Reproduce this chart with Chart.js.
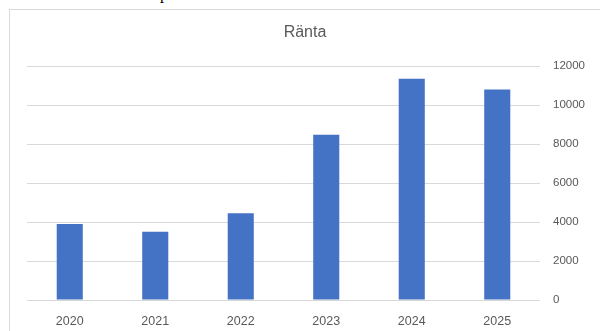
<!DOCTYPE html>
<html>
<head>
<meta charset="utf-8">
<script src="https://cdn.jsdelivr.net/npm/chart.js@4/dist/chart.umd.min.js"></script>
<style>
  html, body { margin: 0; padding: 0; background: #ffffff; }
  body { width: 600px; height: 331px; position: relative; overflow: hidden; }
  #frame {
    position: absolute; left: 9px; top: 9px; width: 640px; height: 400px;
    border: 1px solid #d9d9d9; box-sizing: border-box;
  }
  #above {
    position: absolute; left: 160px; top: -14px;
    font-family: "Liberation Serif", serif; font-size: 16px; color: #000;
    line-height: 16px;
  }
  #wrap { position: absolute; left: 0; top: 0; width: 600px; height: 331px; }
</style>
</head>
<body>
<div id="above">p</div>
<div id="frame"></div>
<div id="wrap"><canvas id="c" width="600" height="331"></canvas></div>
<script>
// Annual interest cost
const years = ['2020', '2021', '2022', '2023', '2024', '2025'];
const interest = [3900, 3500, 4450, 8480, 11350, 10800];
const chartTitle = 'Ränta';
const yMin = 0, yMax = 12000, yStep = 2000;

const textGrey = '#595959';
const gridGrey = '#d9d9d9';
const barBlue = '#4472C4';

// Draws the chart heading centred over the framed area
const headingPlugin = {
  id: 'heading',
  afterDraw(chart) {
    const ctx = chart.ctx;
    ctx.save();
    ctx.fillStyle = textGrey;
    ctx.font = '16px "Liberation Sans", Arial, sans-serif';
    ctx.textAlign = 'center';
    ctx.textBaseline = 'middle';
    ctx.fillText(chartTitle, 305, 33);
    ctx.restore();
  }
};

new Chart(document.getElementById('c'), {
  type: 'bar',
  data: {
    labels: years,
    datasets: [{
      data: interest,
      backgroundColor: barBlue,
      borderWidth: 0,
      barPercentage: 0.305,
      categoryPercentage: 1.0
    }]
  },
  options: {
    responsive: false,
    animation: false,
    layout: { padding: { left: 27, top: 66, right: 0, bottom: 0 } },
    plugins: {
      legend: { display: false },
      title: { display: false },
      tooltip: { enabled: false }
    },
    scales: {
      x: {
        grid: { display: false, drawTicks: false },
        border: { display: false },
        ticks: {
          color: textGrey,
          padding: 14,
          maxRotation: 0,
          font: { family: '"Liberation Sans", Arial, sans-serif', size: 12.5 }
        },
        afterFit(s) { s.height = 31; }
      },
      y: {
        position: 'right',
        min: yMin,
        max: yMax,
        grid: { color: gridGrey, lineWidth: 1, drawTicks: false },
        border: { display: false },
        ticks: {
          stepSize: yStep,
          color: textGrey,
          padding: 13,
          font: { family: '"Liberation Sans", Arial, sans-serif', size: 11.5 },
          callback: (v) => String(v)
        },
        afterFit(s) { s.width = 60; }
      }
    }
  },
  plugins: [headingPlugin]
});
</script>
</body>
</html>
